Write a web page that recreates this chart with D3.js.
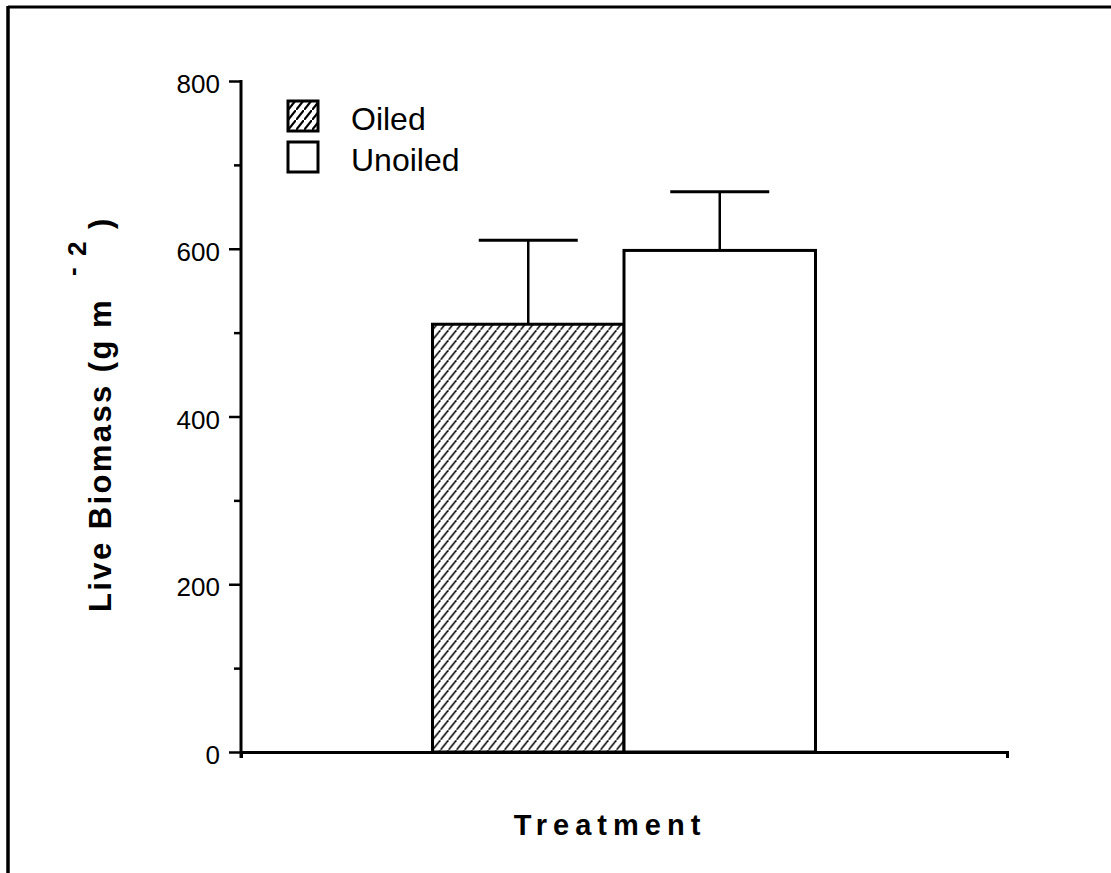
<!DOCTYPE html>
<html>
<head>
<meta charset="utf-8">
<script src="https://cdn.jsdelivr.net/npm/d3@7"></script>
<style>
  html, body { margin: 0; padding: 0; background: #fff; }
  svg { display: block; }
  text { font-family: Arial, "Liberation Sans", Helvetica, sans-serif; fill: #000; }
</style>
</head>
<body>
<svg id="chart" width="1111" height="873"></svg>
<script>
// Live biomass by treatment (mean + standard error)
const groups = ["Treatment"];
const series = ["Oiled", "Unoiled"];
const means = [510, 598];
const errors = [100, 70];
const yTicks = [0, 200, 400, 600, 800];
const yMinorTicks = [100, 300, 500, 700];

const svg = d3.select("#chart");
const W = 1111, H = 873;
const margin = { left: 241, right: 104, top: 81, bottom: 121 };
const x0 = margin.left, x1 = W - margin.right;
const yBottom = H - margin.bottom, yTop = margin.top;

// page frame (left and top rules)
svg.append("line").attr("x1", 8).attr("y1", 7).attr("x2", W).attr("y2", 7)
  .attr("stroke", "#000").attr("stroke-width", 3);
svg.append("line").attr("x1", 8).attr("y1", 6).attr("x2", 8).attr("y2", H)
  .attr("stroke", "#000").attr("stroke-width", 3.5);

// diagonal hatch for the oiled bar
const defs = svg.append("defs");
const pat = defs.append("pattern").attr("id", "hatch")
  .attr("patternUnits", "userSpaceOnUse").attr("width", 8).attr("height", 10);
pat.append("line").attr("x1", -0.5).attr("y1", 10.625).attr("x2", 8.5).attr("y2", -0.625)
  .attr("stroke", "#000").attr("stroke-width", 1.5);
const patL = defs.append("pattern").attr("id", "hatchLegend")
  .attr("patternUnits", "userSpaceOnUse").attr("width", 8).attr("height", 10);
patL.append("line").attr("x1", -0.5).attr("y1", 10.625).attr("x2", 8.5).attr("y2", -0.625)
  .attr("stroke", "#000").attr("stroke-width", 2.2);

const fills = ["url(#hatch)", "#fff"];

// scales
const y = d3.scaleLinear().domain([0, 800]).range([yBottom, yTop]);
const xg = d3.scaleBand().domain(groups).range([x0, x1]).paddingInner(0).paddingOuter(0.5);
const xs = d3.scaleBand().domain(series).range([0, xg.bandwidth()]).padding(0);

// bars
const g = svg.append("g").attr("transform", `translate(${xg("Treatment")},0)`);
g.selectAll("rect.bar").data(series).join("rect")
  .attr("class", "bar")
  .attr("x", d => xs(d))
  .attr("y", (d, i) => y(means[i]))
  .attr("width", xs.bandwidth())
  .attr("height", (d, i) => y(0) - y(means[i]))
  .attr("fill", (d, i) => fills[i])
  .attr("stroke", "#000").attr("stroke-width", 3);

// error bars (upper only)
const capW = 99;
series.forEach((s, i) => {
  const cx = xs(s) + xs.bandwidth() / 2;
  g.append("line").attr("x1", cx).attr("x2", cx)
    .attr("y1", y(means[i])).attr("y2", y(means[i] + errors[i]))
    .attr("stroke", "#000").attr("stroke-width", 2.5);
  g.append("line").attr("x1", cx - capW / 2).attr("x2", cx + capW / 2)
    .attr("y1", y(means[i] + errors[i])).attr("y2", y(means[i] + errors[i]))
    .attr("stroke", "#000").attr("stroke-width", 3);
});

// y axis: major ticks with labels, minor ticks without
const yAxis = svg.append("g").attr("transform", `translate(${x0},0)`)
  .call(d3.axisLeft(y).tickValues(yTicks).tickSize(12).tickPadding(9).tickSizeOuter(0));
yAxis.select(".domain").remove();
yAxis.selectAll(".tick line").attr("stroke", "#000").attr("stroke-width", 2.5);
yAxis.selectAll(".tick text").attr("font-size", 26).attr("dy", "0.45em")
  .style("font-family", "Arial, 'Liberation Sans', sans-serif");
svg.append("g").attr("transform", `translate(${x0},0)`)
  .call(d3.axisLeft(y).tickValues(yMinorTicks).tickSize(7).tickFormat(""))
  .call(a => a.select(".domain").remove())
  .selectAll(".tick line").attr("stroke", "#000").attr("stroke-width", 2.5);
svg.append("line").attr("x1", x0).attr("x2", x0).attr("y1", yTop - 1).attr("y2", yBottom + 6)
  .attr("stroke", "#000").attr("stroke-width", 3);

// x axis: baseline with outer ticks pointing down
const xAxis = svg.append("g").attr("transform", `translate(0,${yBottom})`)
  .call(d3.axisBottom(d3.scaleLinear().domain([0, 1]).range([x0, x1]))
    .tickValues([]).tickSizeOuter(6));
xAxis.select(".domain").attr("stroke", "#000").attr("stroke-width", 3).attr("fill", "none");

// axis titles
svg.append("text")
  .attr("x", 610).attr("y", 835)
  .attr("text-anchor", "middle")
  .attr("font-size", 29).attr("font-weight", "bold")
  .attr("letter-spacing", "6px")
  .text("Treatment");

// rotated y title; x positions run along the axis (negative page y)
const yl = svg.append("text")
  .attr("transform", "translate(111,0) rotate(-90)")
  .attr("font-size", 31).attr("font-weight", "bold");
yl.append("tspan").attr("x", -612).attr("letter-spacing", "2.4px").text("Live Biomass (g");
yl.append("tspan").attr("x", -328).text("m");
yl.append("tspan").attr("x", -276).attr("dy", -30).attr("font-size", 26).text("-");
yl.append("tspan").attr("x", -256).attr("dy", 5).attr("font-size", 26).text("2");
yl.append("tspan").attr("x", -229).attr("dy", 25).text(")");

// legend
const legendY = [101, 142];
const legFills = ["url(#hatchLegend)", "#fff"];
series.forEach((s, i) => {
  svg.append("rect").attr("x", 288).attr("y", legendY[i])
    .attr("width", 30).attr("height", 30)
    .attr("fill", legFills[i]).attr("stroke", "#000").attr("stroke-width", 3);
  svg.append("text").attr("x", 351).attr("y", legendY[i] + 29)
    .attr("font-size", 32).text(s);
});
</script>
</body>
</html>
